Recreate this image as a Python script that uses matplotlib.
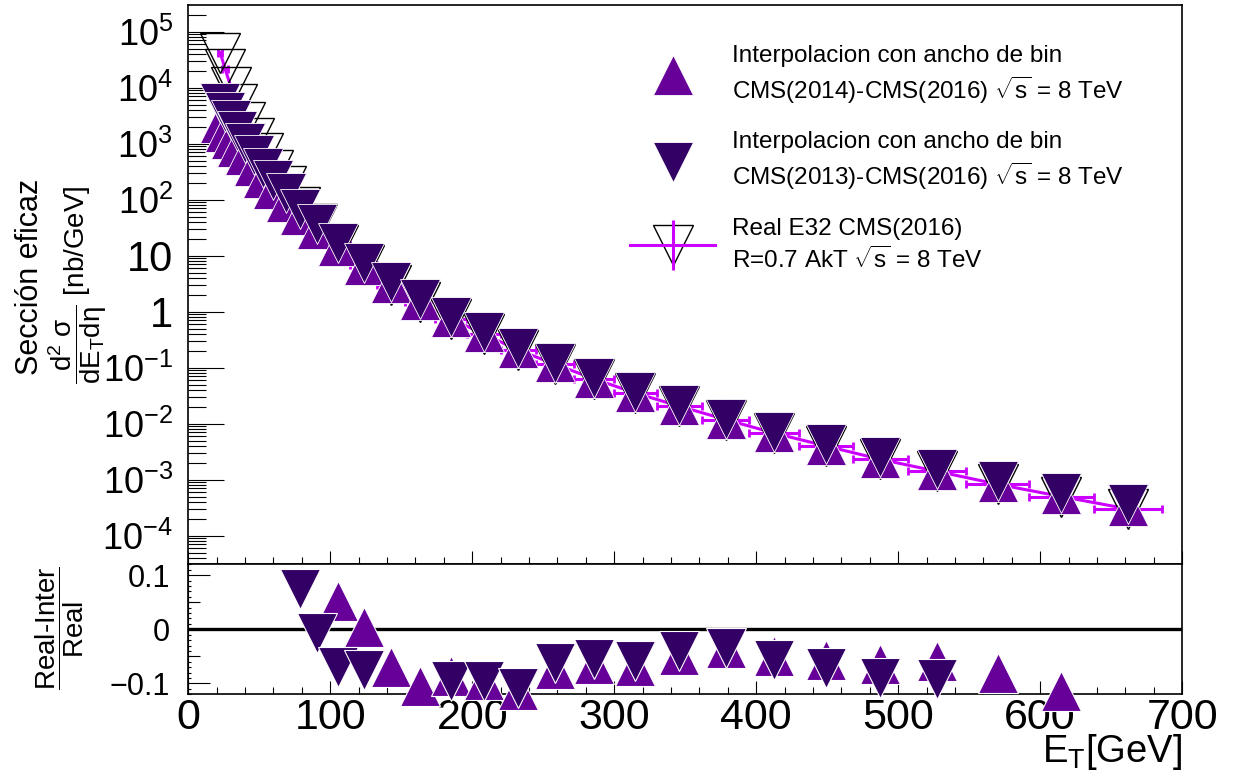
import numpy as np
import matplotlib
matplotlib.use("Agg")
import matplotlib.pyplot as plt
from matplotlib import ticker
from matplotlib.lines import Line2D
from matplotlib.legend_handler import HandlerTuple

plt.rcParams["font.family"] = ["Liberation Sans", "DejaVu Sans"]
plt.rcParams["mathtext.fontset"] = "custom"
plt.rcParams["mathtext.rm"] = "Liberation Sans"
plt.rcParams["mathtext.it"] = "Liberation Sans:italic"
plt.rcParams["mathtext.bf"] = "Liberation Sans:bold"
plt.rcParams["mathtext.sf"] = "Liberation Sans"
plt.rcParams["mathtext.default"] = "regular"

# E_T bin edges [GeV]
edges = [21, 24, 28, 32, 37, 43, 49, 56, 64, 74, 84, 97, 114, 133, 153, 174,
         196, 220, 245, 272, 300, 330, 362, 395, 430, 468, 507, 548, 592, 638, 686]

# cross sections [nb/GeV], one value per bin
real = [4.22e4, 2.13e4, 1.04e4, 5.12e3, 2.47e3, 1.25e3, 675, 340, 176, 75,
        36.6, 15.8, 6.9, 3.0, 1.47, 0.745, 0.402, 0.205, 0.115, 0.0628,
        0.0352, 0.0205, 0.01186, 6.81e-3, 4.0e-3, 2.31e-3, 1.41e-3, 8.3e-4, 5.0e-4, 3.0e-4]
inter_2013 = [5.25e3, 3.72e3, 2.63e3, 1.70e3, 1.05e3, 631, 363, 224, 132, 69.5,
              36.8, 17.1, 7.50, 3.44, 1.66, 0.815, 0.440, 0.228, 0.123, 0.0662,
              0.0372, 0.0213, 0.0123, 7.19e-3, 4.29e-3, 2.51e-3, 1.53e-3, 9.5e-4, 5.86e-4, 3.64e-4]
inter_2014 = [2.31e3, 1.64e3, 1.20e3, 883, 628, 398, 249, 155, 92, 53.3,
              29.6, 14.9, 6.82, 3.21, 1.62, 0.809, 0.440, 0.228, 0.124, 0.0668,
              0.0375, 0.0215, 0.01225, 7.14e-3, 4.23e-3, 2.45e-3, 1.49e-3, 9.0e-4, 5.58e-4, 3.39e-4]

# (Real-Inter)/Real, only points inside the ratio window
ratio13_x = [79, 90.5, 105.5, 123.5, 185, 208, 232.5, 258.5, 286, 315, 346, 378.5,
             412.5, 449, 487.5, 527.5]
ratio13 = [0.074, -0.007, -0.069, -0.076, -0.095, -0.095, -0.109, -0.063, -0.055,
           -0.059, -0.041, -0.034, -0.056, -0.072, -0.090, -0.092]
ratio14_x = [105.5, 123.5, 143, 163.5, 185, 208, 232.5, 258.5, 286, 315, 346, 378.5,
             412.5, 449, 487.5, 527.5, 570, 615]
ratio14 = [0.052, 0.005, -0.070, -0.105, -0.087, -0.093, -0.112, -0.074, -0.064,
           -0.067, -0.047, -0.034, -0.049, -0.057, -0.065, -0.058, -0.081, -0.114]

c14 = "#660099"
c13 = "#330066"
cmag = "#cc00ff"

lo = np.array(edges[:-1], dtype=float)
hi = np.array(edges[1:], dtype=float)
xc = (lo + hi) / 2
xerr = (hi - lo) / 2

fig = plt.figure(figsize=(12.33, 7.8), dpi=100)
ax = fig.add_axes([0.1527, 0.2765, 0.806, 0.7165])
ax2 = fig.add_axes([0.1527, 0.1099, 0.806, 0.1667])

ms = 29.5
ax.errorbar(xc, real, xerr=xerr, fmt="-", color=cmag, lw=2.2, elinewidth=2.2,
            capsize=3, capthick=2, zorder=2)
ax.plot(xc, real, "v", ms=ms, mfc="none", mec="black", mew=1.0, zorder=3, clip_on=False)
ax.plot(xc, inter_2014, "^", ms=ms, color=c14, mec="white", mew=0.6, zorder=4, clip_on=False)
ax.plot(xc, inter_2013, "v", ms=ms, color=c13, mec="white", mew=0.6, zorder=5, clip_on=False)

ax.set_yscale("log")
ax.set_xlim(0, 700)
ax.set_ylim(3.08e-5, 2.94e5)

decades = list(range(-4, 6))
ax.set_yticks([10.0 ** d for d in decades])
ylabels = []
for d in decades:
    if d == 0:
        ylabels.append("1")
    elif d == 1:
        ylabels.append("10")
    else:
        ylabels.append(r"$10^{%d}$" % d)
ax.set_yticklabels(ylabels)
ax.yaxis.set_minor_locator(ticker.LogLocator(base=10, subs=np.arange(2, 10), numticks=100))
ax.yaxis.set_minor_formatter(ticker.NullFormatter())
for lab in ax.get_yticklabels():
    lab.set_fontsize(26 if "$" in lab.get_text() else 30)

ax.xaxis.set_major_locator(ticker.MultipleLocator(100))
ax.xaxis.set_minor_locator(ticker.MultipleLocator(20))
ax.tick_params(axis="x", which="both", direction="in", labelbottom=False, top=False)
ax.tick_params(axis="x", which="major", length=9.4, width=0.8)
ax.tick_params(axis="x", which="minor", length=5, width=0.8)
ax.tick_params(axis="y", which="both", direction="in", right=False, pad=11)
ax.tick_params(axis="y", which="major", length=26, width=0.8)
ax.tick_params(axis="y", which="minor", length=13, width=0.8)

# ratio panel
ax2.axhline(0, color="black", lw=2.4, zorder=1)
ax2.plot(ratio14_x, ratio14, "^", ms=29, color=c14, mec="white", mew=0.8, zorder=3, clip_on=False)
ax2.plot(ratio13_x, ratio13, "v", ms=29, color=c13, mec="white", mew=0.8, zorder=4, clip_on=False)
ax2.set_xlim(0, 700)
ax2.set_ylim(-0.12, 0.12)
ax2.set_yticks([-0.1, 0, 0.1])
ax2.set_yticklabels(["\u22120.1", "0", "0.1"], fontsize=22)
ax2.yaxis.set_minor_locator(ticker.MultipleLocator(0.01))
ax2.xaxis.set_major_locator(ticker.MultipleLocator(100))
ax2.xaxis.set_minor_locator(ticker.MultipleLocator(20))
ax2.tick_params(axis="x", which="both", direction="in", top=False, labelsize=31, pad=3)
ax2.tick_params(axis="x", which="major", length=9.4, width=0.8)
ax2.tick_params(axis="x", which="minor", length=5, width=0.8)
ax2.tick_params(axis="y", which="both", direction="in", right=False, pad=13)
ax2.tick_params(axis="y", which="major", length=15.6, width=0.8)
ax2.tick_params(axis="y", which="minor", length=2.5, width=0.8)
mid = ax2.secondary_yaxis("left")
mid.set_yticks([-0.05, 0.05])
mid.tick_params(direction="in", length=8.4, width=0.8, labelleft=False)

for a in (ax, ax2):
    for sp in a.spines.values():
        sp.set_linewidth(1.2)

# axis titles
fig.text(30 / 1233, 1 - 277 / 780, "Sección eficaz", rotation=90, fontsize=22,
         ha="center", va="center")
fig.text(78 / 1233, 1 - 285 / 780, r"$\dfrac{d^{2}\ \sigma}{dE_{T}d\eta}$ [nb/GeV]",
         rotation=90, fontsize=20, ha="center", va="center")
fig.text(60 / 1233, 1 - 628 / 780, r"$\dfrac{Real\text{-}Inter}{Real}$", rotation=90,
         fontsize=20, ha="center", va="center")
fig.text(1182 / 1233, 1 - 752 / 780, r"E$_{T}$[GeV]", fontsize=27.5, ha="right", va="center")

# legend
h14 = Line2D([], [], ls="none", marker="^", ms=ms, color=c14, mec="white", mew=0.6)
h13 = Line2D([], [], ls="none", marker="v", ms=ms, color=c13, mec="white", mew=0.6)
h_open = Line2D([], [], ls="none", marker="v", ms=ms, mfc="none", mec="black", mew=1.0)
h_hline = Line2D([], [], color=cmag, lw=2.2)
h_vline = Line2D([], [], ls="none", marker="|", ms=36, mec=cmag, mew=2.2)
labels = [
    "Interpolacion con ancho de bin\nCMS(2014)-CMS(2016) $\\sqrt{s}$ = 8 TeV",
    "Interpolacion con ancho de bin\nCMS(2013)-CMS(2016) $\\sqrt{s}$ = 8 TeV",
    "Real E32 CMS(2016)\nR=0.7 AkT $\\sqrt{s}$ = 8 TeV",
]
leg = fig.legend([h14, h13, (h_open, h_hline, h_vline)], labels,
                 handler_map={tuple: HandlerTuple(ndivide=1, pad=0)},
                 loc="upper left", bbox_to_anchor=(630 / 1233, 1 - 45 / 780),
                 frameon=False, fontsize=17.5, handlelength=3.5, handletextpad=0.7,
                 labelspacing=1.05, borderpad=0, borderaxespad=0)
for t in leg.get_texts():
    t.set_linespacing(1.3)

fig.savefig("out.png", dpi=100)
